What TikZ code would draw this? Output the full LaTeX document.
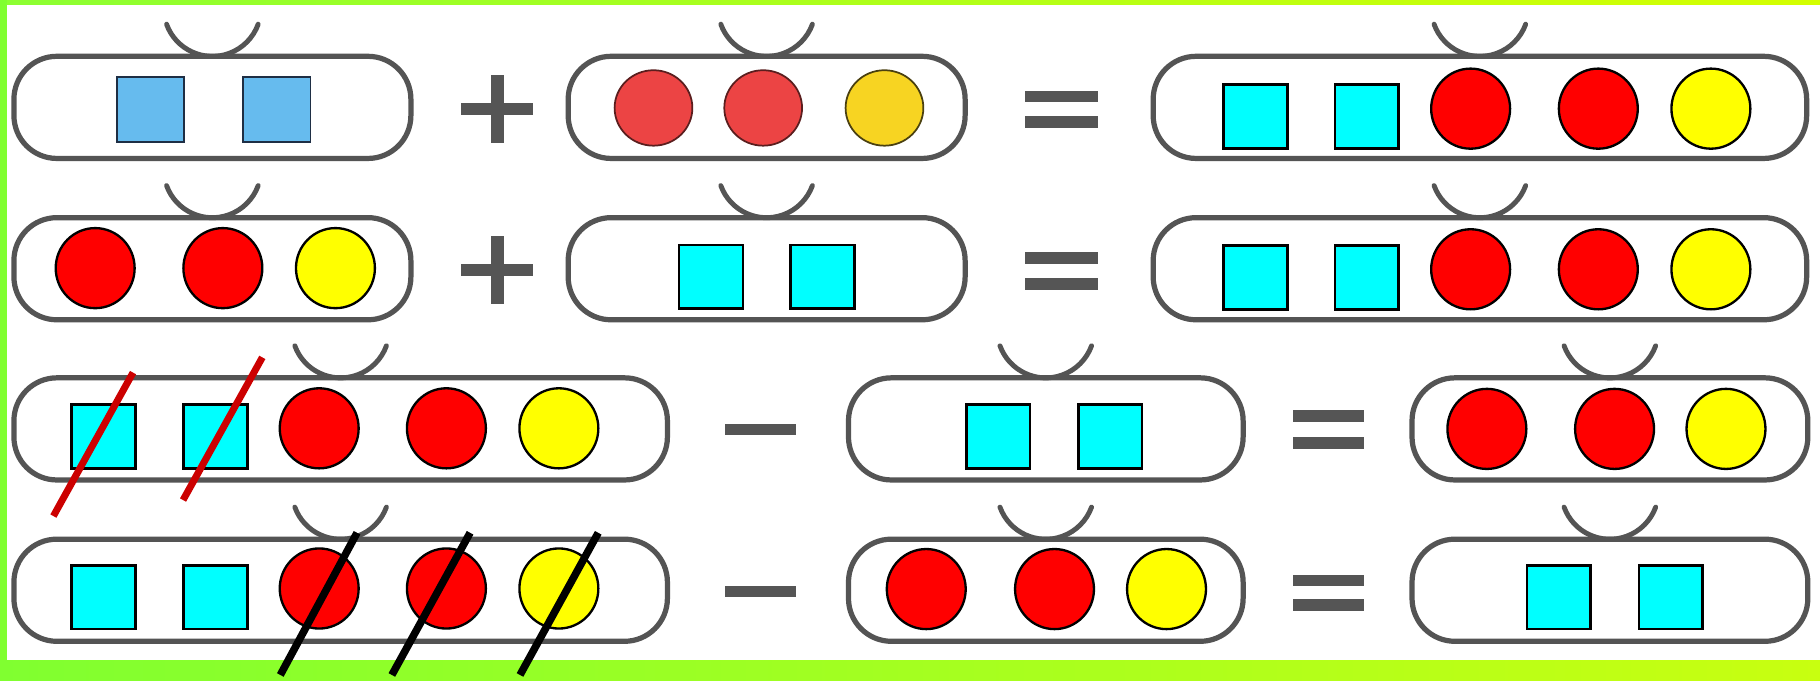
\documentclass[tikz,border=0pt]{standalone}
\usetikzlibrary{calc,shapes.geometric}
\definecolor{boxgray}{HTML}{545454}
\definecolor{signgray}{HTML}{555555}
\definecolor{lblue}{HTML}{66BBEE}
\definecolor{lblueedge}{HTML}{1E2E44}
\definecolor{sred}{HTML}{EC4444}
\definecolor{sredge}{HTML}{5A1E1E}
\definecolor{syel}{HTML}{F7D422}
\definecolor{syedge}{HTML}{4A4010}
\definecolor{ccyan}{RGB}{0,255,255}
\definecolor{cred}{RGB}{255,0,0}
\definecolor{cyel}{RGB}{255,255,0}
\definecolor{slashred}{HTML}{CC0000}
\definecolor{gA}{RGB}{140,255,50}
\definecolor{gB}{RGB}{212,255,0}
\definecolor{gC}{RGB}{128,255,48}
\definecolor{gD}{RGB}{200,255,16}
\begin{document}
\begin{tikzpicture}[x=0.02cm,y=-0.02cm,
  box/.style={draw=boxgray,line width=0.09cm,rounded corners=0.74cm,
    minimum height=88*0.02cm,inner sep=0,outer sep=0},
  boxS/.style={box,minimum width=342*0.02cm},
  boxL/.style={box,minimum width=563*0.02cm},
  handle/.style={draw=boxgray,line width=0.085cm,line cap=round},
  bsq/.style={draw=lblueedge,line width=0.03cm,fill=lblue,
    minimum width=58*0.02cm,minimum height=56*0.02cm,inner sep=0},
  bred/.style={ellipse,draw=sredge,line width=0.03cm,fill=sred,
    minimum width=67*0.02cm,minimum height=65*0.02cm,inner sep=0},
  byel/.style={bred,draw=syedge,fill=syel},
  sq/.style={draw=black,line width=0.045cm,fill=ccyan,
    minimum width=55*0.02cm,minimum height=55*0.02cm,inner sep=0},
  rc/.style={ellipse,draw=black,line width=0.04cm,fill=cred,
    minimum width=68*0.02cm,minimum height=69*0.02cm,inner sep=0},
  yc/.style={rc,fill=cyel},
  hbar/.style={fill=signgray,minimum width=62*0.02cm,minimum height=10*0.02cm,inner sep=0},
  vbar/.style={fill=signgray,minimum width=11*0.02cm,minimum height=58*0.02cm,inner sep=0},
  redslash/.style={draw=slashred,line width=0.12cm},
  blackslash/.style={draw=black,line width=0.13cm}
]
\useasboundingbox (0,0) rectangle (1568,586);
\fill[white] (0,0) rectangle (1568,586);
% green frame
\fill[left color=gA,right color=gB] (0,0) rectangle (1568,4.3);
\fill[left color=gC,right color=gD] (0,568.8) rectangle (1568,586);
\fill[gC] (0,0) rectangle (6,586);

% boxes
\node[boxS] (a1) at (183,92.5) {};
\node[boxS] (b1) at (660.5,92.5) {};
\node[boxL] (c1) at (1275,92.5) {};
\node[boxS] (a2) at (183,231.5) {};
\node[boxS] (b2) at (660.5,231.5) {};
\node[boxL] (c2) at (1275,231.5) {};
\node[boxL] (a3) at (293.5,369.5) {};
\node[boxS,minimum width=340*0.02cm] (b3) at (901,369.5) {};
\node[boxS,minimum width=341*0.02cm] (c3) at (1387,369.5) {};
\node[boxL] (a4) at (293.5,508.5) {};
\node[boxS,minimum width=340*0.02cm] (b4) at (901,508.5) {};
\node[boxS,minimum width=341*0.02cm] (c4) at (1387,508.5) {};

% handles (circular arcs resting on the box tops)
\foreach \b in {a1,b1,c1,a2,b2,c2,a3,b3,c3,a4,b4,c4}{
  \draw[handle] ($(\b.north)+(-39.5,-27.6)$) arc[start angle=200, end angle=340, radius=0.84cm];
}

% row 1
\node[bsq] (a1s1) at (129.5,94.5) {};
\node[bsq] (a1s2) at (238.5,94.5) {};
\node[bred] (b1r1) at (563,93) {};
\node[bred] (b1r2) at (657.5,93) {};
\node[byel] (b1y) at (762,93) {};
\node[sq] (c1s1) at (1081.5,100.5) {};
\node[sq] (c1s2) at (1177.5,100.5) {};
\node[rc] (c1r1) at (1267,93.6) {};
\node[rc] (c1r2) at (1377,93.6) {};
\node[yc] (c1y) at (1474,93.6) {};

% row 2
\node[rc] (a2r1) at (82,231) {};
\node[rc] (a2r2) at (192,231) {};
\node[yc] (a2y) at (289,231) {};
\node[sq] (b2s1) at (612.5,238.5) {};
\node[sq] (b2s2) at (708.5,238.5) {};
\node[sq] (c2s1) at (1081.5,239) {};
\node[sq] (c2s2) at (1177.5,239) {};
\node[rc] (c2r1) at (1267,232) {};
\node[rc] (c2r2) at (1377,232) {};
\node[yc] (c2y) at (1474,232) {};

% row 3
\node[sq] (a3s1) at (89,376) {};
\node[sq] (a3s2) at (185.6,376) {};
\node[rc] (a3r1) at (275,369) {};
\node[rc] (a3r2) at (384.6,369) {};
\node[yc] (a3y) at (481.5,369) {};
\node[sq] (b3s1) at (860,376) {};
\node[sq] (b3s2) at (956.5,376) {};
\node[rc] (c3r1) at (1281,369.5) {};
\node[rc] (c3r2) at (1391,369.5) {};
\node[yc] (c3y) at (1487,369.5) {};

% row 4
\node[sq] (a4s1) at (89,514.5) {};
\node[sq] (a4s2) at (185.6,514.5) {};
\node[rc] (a4r1) at (275,507) {};
\node[rc] (a4r2) at (384.6,507) {};
\node[yc] (a4y) at (481.5,507) {};
\node[rc] (b4r1) at (798,507.5) {};
\node[rc] (b4r2) at (908.5,507.5) {};
\node[yc] (b4y) at (1005,507.5) {};
\node[sq] (c4s1) at (1343,514.5) {};
\node[sq] (c4s2) at (1439.5,514.5) {};

% signs
\node[hbar] (p1h) at (428.5,94) {};
\node[vbar] (p1v) at (428.5,94) {};
\node[hbar] (p2h) at (428.5,232.5) {};
\node[vbar] (p2v) at (428.5,232.5) {};
\node[hbar,minimum width=63*0.02cm] (e1a) at (914.5,83) {};
\node[hbar,minimum width=63*0.02cm] (e1b) at (914.5,105) {};
\node[hbar,minimum width=63*0.02cm] (e2a) at (914.5,222.5) {};
\node[hbar,minimum width=63*0.02cm] (e2b) at (914.5,244.5) {};
\node[hbar,minimum width=61*0.02cm] (m3) at (655.5,370) {};
\node[hbar,minimum width=61*0.02cm] (e3a) at (1144.5,358.5) {};
\node[hbar,minimum width=61*0.02cm] (e3b) at (1144.5,381.5) {};
\node[hbar,minimum width=61*0.02cm] (m4) at (655.5,509.5) {};
\node[hbar,minimum width=61*0.02cm] (e4a) at (1144.5,500) {};
\node[hbar,minimum width=61*0.02cm] (e4b) at (1144.5,521) {};

% crossing-out strokes
\coordinate (r1a) at (46,444.6);   \coordinate (r1b) at (114.6,321);
\coordinate (r2a) at (157.7,430.8); \coordinate (r2b) at (226,307.9);
\draw[redslash] (r1a) -- (r1b);
\draw[redslash] (r2a) -- (r2b);
\coordinate (k1a) at (241.5,581.5); \coordinate (k1b) at (307.6,459);
\coordinate (k2a) at (337.6,581.5); \coordinate (k2b) at (405,459);
\coordinate (k3a) at (448,581.5);   \coordinate (k3b) at (515.4,459);
\draw[blackslash] (k1a) -- (k1b);
\draw[blackslash] (k2a) -- (k2b);
\draw[blackslash] (k3a) -- (k3b);
\end{tikzpicture}
\end{document}
